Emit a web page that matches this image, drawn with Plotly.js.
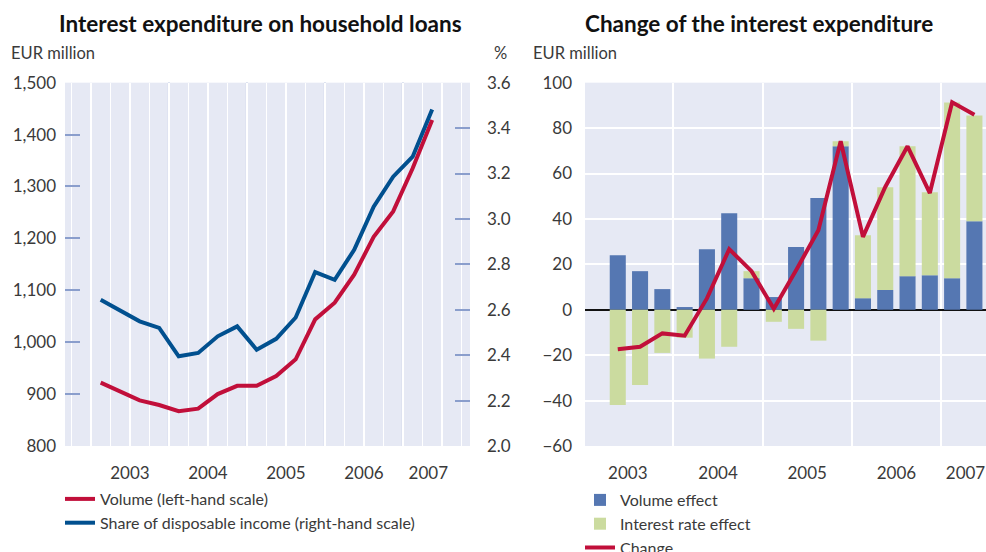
<!DOCTYPE html>
<html>
<head>
<meta charset="utf-8">
<script src="https://cdn.plot.ly/plotly-3.0.1.min.js"></script>
<style>
  html, body { margin: 0; padding: 0; background: #ffffff; }
  #chart { width: 986px; height: 552px; }
</style>
</head>
<body>
<div id="chart"></div>
<script>
// quarter index: 0 = 2003 Q1 ... 17 = 2007 Q2
const quarters = [0, 1, 2, 3, 4, 5, 6, 7, 8, 9, 10, 11, 12, 13, 14, 15, 16, 17];
const volumeEur = [922, 904, 888, 879, 867, 872, 900, 916, 916, 935, 967, 1044, 1076, 1130, 1203, 1252, 1335, 1428];
const shareIncome = [2.644, 2.597, 2.549, 2.520, 2.395, 2.410, 2.483, 2.527, 2.424, 2.472, 2.566, 2.766, 2.732, 2.864, 3.054, 3.186, 3.274, 3.482];

// changes start at 2003 Q2
const changeQuarters = [1, 2, 3, 4, 5, 6, 7, 8, 9, 10, 11, 12, 13, 14, 15, 16, 17];
const volumeEffect = [24.0, 17.0, 9.1, 1.2, 26.7, 42.5, 13.9, 5.6, 27.6, 49.2, 72.0, 5.1, 8.7, 14.8, 15.2, 13.9, 39.0];
const rateEffect = [-41.9, -33.1, -19.0, -12.3, -21.5, -16.3, 3.1, -5.3, -8.4, -13.6, 2.2, 27.7, 45.3, 57.2, 36.5, 77.4, 46.6];
const totalChange = [-17.4, -16.3, -10.4, -11.4, 5.0, 26.7, 17.0, 0.4, 17.4, 35.0, 74.2, 32.1, 54.1, 72.0, 51.4, 91.4, 85.9];

const yearLabels = ["2003", "2004", "2005", "2006", "2007"];
const yearPosLeft = [1.5, 5.5, 9.5, 13.5, 16.8];
const yearPosRight = [1.45, 5.5, 9.5, 13.5, 16.6];
const yearBreaks = [3.5, 7.5, 11.5, 15.5];

const FONT = "Lato, 'Open Sans', sans-serif";
const TXT = "#3a3a3a";
const BG = "#e6e9f4";
const RED = "#c10f3a";
const NAVY = "#01508f";
const YD = [0.192, 0.8502];

const traces = [
    { x: quarters, y: volumeEur, type: "scatter", mode: "lines", name: "Volume (left-hand scale)",
      line: { color: RED, width: 4 }, xaxis: "x", yaxis: "y", legend: "legend" },
    { x: quarters, y: shareIncome, type: "scatter", mode: "lines", name: "Share of disposable income (right-hand scale)",
      line: { color: NAVY, width: 4 }, xaxis: "x", yaxis: "y2", legend: "legend" },
    { x: changeQuarters, y: volumeEffect, type: "bar", name: "Volume effect", width: 0.72,
      marker: { color: "#5577b2" }, xaxis: "x3", yaxis: "y3", legend: "legend2" },
    { x: changeQuarters, y: rateEffect, type: "bar", name: "Interest rate effect", width: 0.72,
      marker: { color: "#cbdb9f" }, xaxis: "x3", yaxis: "y3", legend: "legend2" },
    { x: changeQuarters, y: totalChange, type: "scatter", mode: "lines", name: "Change",
      line: { color: RED, width: 4 }, xaxis: "x3", yaxis: "y3", legend: "legend2" }
];

const shapes = yearBreaks.map((b) => ({
    type: "line", xref: "x", yref: "y domain", x0: b, x1: b, y0: 0, y1: 1,
    line: { color: "#8a9ecc", width: 2 }, layer: "below"
}));

const tickFont = { family: FONT, size: 17, color: TXT };

const layout = {
    width: 986, height: 552,
    margin: { l: 0, r: 0, t: 0, b: 0, autoexpand: false },
    paper_bgcolor: "#ffffff",
    plot_bgcolor: BG,
    barmode: "relative",
    showlegend: true,
    font: { family: FONT, color: TXT },
    xaxis: {
        domain: [65 / 986, 470 / 986], range: [-1.83, 18.94], anchor: "y",
        tickmode: "array", tickvals: yearPosLeft, ticktext: yearLabels,
        showgrid: false, zeroline: false, showline: false, ticks: "",
        tickfont: tickFont, ticklabelstandoff: 15, automargin: false,
        minor: { tick0: 0.5, dtick: 1, showgrid: true, gridcolor: "#ffffff", gridwidth: 1.5, ticks: "" }
    },
    yaxis: {
        domain: YD, range: [800, 1500], anchor: "x",
        tickvals: [800, 900, 1000, 1100, 1200, 1300, 1400, 1500], tickformat: ",d",
        showgrid: false, zeroline: false, showline: false,
        ticks: "inside", ticklen: 15, tickwidth: 2, tickcolor: "#8a9ecc",
        tickfont: tickFont, ticklabelstandoff: 8, automargin: false
    },
    yaxis2: {
        domain: YD, range: [2.0, 3.6], overlaying: "y", side: "right", anchor: "x",
        tickvals: [2.0, 2.2, 2.4, 2.6, 2.8, 3.0, 3.2, 3.4, 3.6], tickformat: ".1f",
        showgrid: false, zeroline: false, showline: false,
        ticks: "inside", ticklen: 15, tickwidth: 2, tickcolor: "#8a9ecc",
        tickfont: tickFont, ticklabelstandoff: 16, automargin: false
    },
    xaxis3: {
        domain: [585 / 986, 1], range: [-0.47, 17.52], anchor: "y3",
        tickmode: "array", tickvals: yearPosRight, ticktext: yearLabels,
        showgrid: false, zeroline: false, showline: false, ticks: "",
        tickfont: tickFont, ticklabelstandoff: 15, automargin: false,
        minor: { tickmode: "array", tickvals: yearBreaks, showgrid: true, gridcolor: "#ffffff", gridwidth: 2, ticks: "" }
    },
    yaxis3: {
        domain: YD, range: [-60, 100], anchor: "x3",
        tickvals: [-60, -40, -20, 0, 20, 40, 60, 80, 100],
        showgrid: true, gridcolor: "#ffffff", gridwidth: 2,
        zeroline: true, zerolinecolor: "#111111", zerolinewidth: 2.5,
        showline: false, ticks: "",
        tickfont: tickFont, ticklabelstandoff: 12, automargin: false
    },
    legend: {
        x: 60 / 986, y: 1 - 482 / 552, xanchor: "left", yanchor: "top",
        bgcolor: "rgba(0,0,0,0)", font: { family: FONT, size: 16, color: TXT },
        tracegroupgap: 0, itemwidth: 30
    },
    legend2: {
        x: 580 / 986, y: 1 - 483 / 552, xanchor: "left", yanchor: "top",
        bgcolor: "rgba(0,0,0,0)", font: { family: FONT, size: 16, color: TXT },
        traceorder: "normal", tracegroupgap: 0, itemwidth: 30
    },
    shapes: shapes,
    annotations: [
        { text: "<b>Interest expenditure on household loans</b>", xref: "paper", yref: "paper",
          x: 260 / 986, y: 1 - 24 / 552, xanchor: "center", yanchor: "middle", showarrow: false,
          font: { family: FONT, size: 22.5, color: "#111111" } },
        { text: "<b>Change of the interest expenditure</b>", xref: "paper", yref: "paper",
          x: 759 / 986, y: 1 - 24 / 552, xanchor: "center", yanchor: "middle", showarrow: false,
          font: { family: FONT, size: 22.5, color: "#111111" } },
        { text: "EUR million", xref: "paper", yref: "paper", x: 9 / 986, y: 1 - 53 / 552,
          xanchor: "left", yanchor: "middle", showarrow: false, font: { family: FONT, size: 16.5, color: TXT } },
        { text: "%", xref: "paper", yref: "paper", x: 509 / 986, y: 1 - 53 / 552,
          xanchor: "right", yanchor: "middle", showarrow: false, font: { family: FONT, size: 16.5, color: TXT } },
        { text: "EUR million", xref: "paper", yref: "paper", x: 531 / 986, y: 1 - 53 / 552,
          xanchor: "left", yanchor: "middle", showarrow: false, font: { family: FONT, size: 16.5, color: TXT } }
    ]
};

Plotly.newPlot("chart", traces, layout, { displayModeBar: false, staticPlot: true });
</script>
</body>
</html>
